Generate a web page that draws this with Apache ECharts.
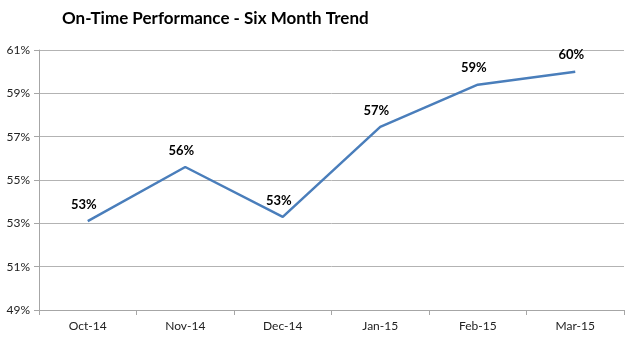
<!DOCTYPE html>
<html><head><meta charset="utf-8">
<script src="https://cdn.jsdelivr.net/npm/echarts@6/dist/echarts.min.js"></script>
<style>html,body{margin:0;padding:0;background:#fff}#c{width:632px;height:344px}</style>
</head><body><div id="c"></div>
<script>
var categories = ["Oct-14","Nov-14","Dec-14","Jan-15","Feb-15","Mar-15"];
var values = [53.1, 55.6, 53.3, 57.45, 59.4, 60.0];
var yMin = 49, yMax = 61, yStep = 2;
var titleText = "On-Time Performance - Six Month Trend";

var chart = echarts.init(document.getElementById('c'), null, {renderer:'canvas'});
chart.setOption({
  animation:false,
  backgroundColor:'#ffffff',
  title:{text:titleText,left:57,top:5,textStyle:{fontFamily:'Lato',fontWeight:'bold',fontSize:17,color:'#000'}},
  grid:{left:39,right:8,top:50,bottom:34},
  xAxis:{type:'category',data:categories,boundaryGap:true,
    axisLine:{lineStyle:{color:'#a6a6a6',width:1}},
    axisTick:{show:true,length:5,lineStyle:{color:'#a6a6a6'}},
    axisLabel:{color:'#222',fontFamily:'Lato',fontSize:12,margin:10}},
  yAxis:{type:'value',min:yMin,max:yMax,interval:yStep,
    axisLine:{show:true,lineStyle:{color:'#a6a6a6'}},
    axisTick:{show:true,length:5,lineStyle:{color:'#a6a6a6'}},
    splitLine:{lineStyle:{color:'#b3b3b3',width:1}},
    axisLabel:{color:'#222',fontFamily:'Lato',fontSize:12,margin:9,formatter:function(v){return v+'%';}}},
  series:[{type:'line',data:values,showSymbol:true,symbol:'circle',symbolSize:2,
    itemStyle:{color:'rgba(0,0,0,0)',borderWidth:0},
    lineStyle:{color:'#4a7ebb',width:2.5},
    label:{show:true,position:'top',distance:9,offset:[-4,0],fontFamily:'Lato',fontWeight:'bold',fontSize:13,color:'#000',
      formatter:function(p){return Math.round(p.value)+'%';}}}]
});
</script></body></html>
